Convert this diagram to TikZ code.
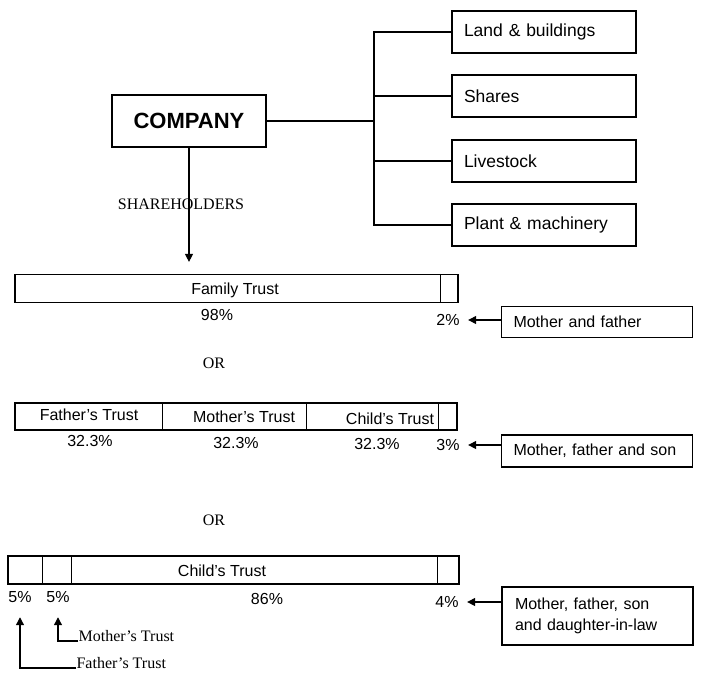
\documentclass[tikz,border=0pt]{standalone}
\usepackage{fontspec}
\setmainfont{Liberation Serif}
\setsansfont{Liberation Sans}
\usetikzlibrary{arrows.meta,calc}
\begin{document}
\begin{tikzpicture}[x=1pt,y=-1pt,line width=1.2pt,
  lbl/.style={font=\sffamily\fontsize{16}{19}\selectfont, inner sep=0pt},
  ser/.style={font=\rmfamily\fontsize{16}{19}\selectfont, inner sep=0pt},
  abox/.style={draw, font=\sffamily\fontsize{17.5}{20}\selectfont, minimum width=184pt, minimum height=42pt, text width=160pt, align=left, inner xsep=12pt},
  pbox/.style={draw, font=\sffamily\fontsize{16}{21}\selectfont, minimum width=191pt, text width=167pt, align=left, inner xsep=12pt},
  bar/.style={draw, inner sep=0pt},
  arr/.style={-{Triangle[length=8pt,width=8pt]}},
]
\useasboundingbox (0,0) rectangle (704,675);

% top part
\node[draw, font=\sffamily\bfseries\fontsize{22}{26}\selectfont, minimum width=154pt, minimum height=52pt] (company) at (189,121) {COMPANY};
\node[abox] (land) at (544,32) {Land \& buildings};
\node[abox] (shares) at (544,96) {Shares};
\node[abox] (live) at (544,161) {Livestock};
\node[abox] (plant) at (544,225) {Plant \& machinery};
\coordinate (tr) at (374,121);
\draw (company.east) -- (tr);
\draw (land.west) -| (tr) |- (plant.west);
\draw (shares.west) -- (shares.west -| tr);
\draw (live.west) -- (live.west -| tr);

\node[ser] (sh) at (181,204) {SHAREHOLDERS};

% option 1
\node[bar, minimum width=443pt, minimum height=28pt] (bar1) at (236.5,288.5) {};
\draw ([xshift=-18pt]bar1.north east) -- ([xshift=-18pt]bar1.south east);
\draw[arr, shorten >=12pt] (company.south) -- (company.south |- bar1.north);
\node[lbl] (ft1) at (235,290) {Family Trust};
\node[lbl] (p98) at (217,315) {98\%};
\node[lbl] (p2) at (448,320) {2\%};
\node[pbox, minimum height=31pt] (mf) at (597,322) {Mother and father};
\draw[arr, shorten >=8pt] (mf.west |- p2.east) -- (p2.east);

\node[ser] (or1) at (214,363) {OR};

% option 2
\node[bar, minimum width=442pt, minimum height=27pt] (bar2) at (236,416.5) {};
\draw (bar2.north west) ++(148,0) -- ++(0,27);
\draw (bar2.north west) ++(292,0) -- ++(0,27);
\draw (bar2.north west) ++(424,0) -- ++(0,27);
\node[lbl] (fa2) at (89,415) {Father's Trust};
\node[lbl] (mo2) at (244,417) {Mother's Trust};
\node[lbl] (ch2) at (390,419) {Child's Trust};
\node[lbl] (pa) at (90,441) {32.3\%};
\node[lbl] (pb) at (236,443) {32.3\%};
\node[lbl] (pc) at (377,444) {32.3\%};
\node[lbl] (p3) at (448,445) {3\%};
\node[pbox, minimum height=32pt] (mfs) at (597,451) {Mother, father and son};
\draw[arr, shorten >=8pt] (mfs.west |- p3.east) -- (p3.east);

\node[ser] (or2) at (214,520) {OR};

% option 3
\node[bar, minimum width=451pt, minimum height=28pt] (bar3) at (233.5,570) {};
\draw (bar3.north west) ++(35,0) -- ++(0,28);
\draw (bar3.north west) ++(64,0) -- ++(0,28);
\draw (bar3.north west) ++(430,0) -- ++(0,28);
\node[lbl] (ch3) at (222,571) {Child's Trust};
\node[lbl] (p5a) at (20,597) {5\%};
\node[lbl] (p5b) at (58,597) {5\%};
\node[lbl] (p86) at (267,599) {86\%};
\node[lbl] (p4) at (447,602) {4\%};
\node[pbox, minimum height=58pt, text width=165pt] (mfsd) at (597.5,616) {Mother, father, son\\and daughter-in-law};
\draw[arr, shorten >=8pt] (mfsd.west |- p4.east) -- (p4.east);

\node[ser, anchor=base west] (mt) at (78,641) {Mother’s Trust};
\node[ser, anchor=base west] (ftb) at (76,668) {Father’s Trust};
\draw[arr, shorten >=14pt] (mt.base west) -| (p5b.south);
\draw[arr, shorten >=14pt] (ftb.base west) -| (p5a.south);
\end{tikzpicture}
\end{document}
